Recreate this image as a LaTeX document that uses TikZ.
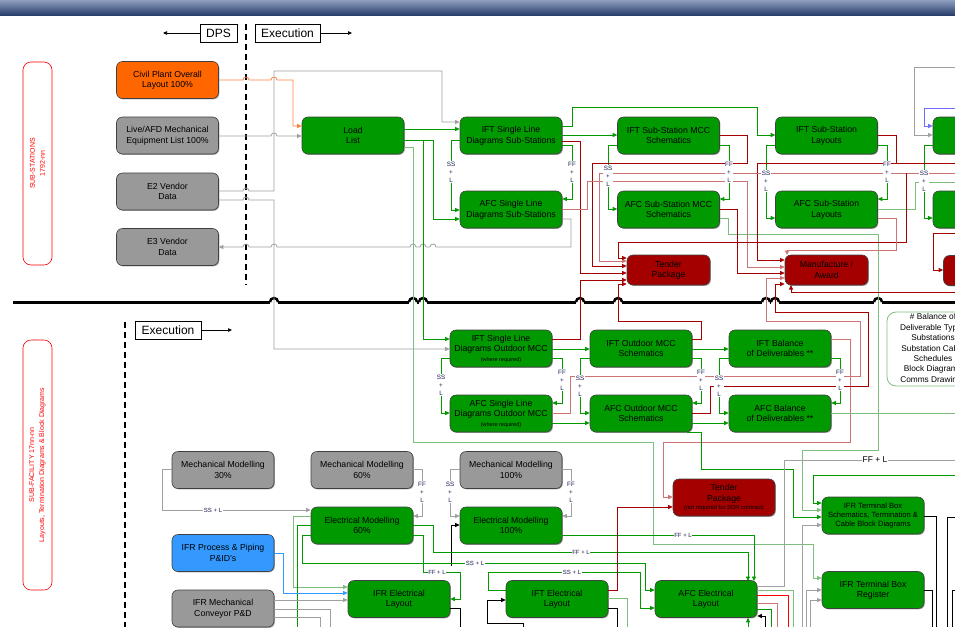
\documentclass[tikz,border=0pt]{standalone}
\usepackage{fontspec}
\setmainfont{Liberation Sans}
\usetikzlibrary{arrows.meta,shadows}
\definecolor{nGreen}{HTML}{009900}
\definecolor{nGray}{HTML}{999999}
\definecolor{nOrange}{HTML}{FF6600}
\definecolor{nRed}{HTML}{A50000}
\definecolor{nBlue}{HTML}{3399FF}
\definecolor{cG}{HTML}{009900}
\definecolor{cLG}{HTML}{7DBE7D}
\definecolor{cR}{HTML}{A50000}
\definecolor{cLR}{HTML}{CC7373}
\definecolor{cGr}{HTML}{A0A0A0}
\definecolor{cB}{HTML}{6E6EFF}
\definecolor{cO}{HTML}{FF8040}
\definecolor{cBl}{HTML}{3399FF}
\definecolor{hTop}{HTML}{8E9EBE}
\definecolor{hBot}{HTML}{283E6C}
\definecolor{lblue}{HTML}{1A1A50}
\begin{document}
\begin{tikzpicture}[x=1pt,y=-1pt,
  box/.style={draw=black!75, line width=0.6pt, rounded corners=6pt, minimum width=102pt, minimum height=37pt, inner sep=1pt, align=center, font=\fontsize{8.7}{10.5}\selectfont, drop shadow={shadow xshift=0.9pt,shadow yshift=-0.9pt,opacity=0.35,fill=black}},
  gbox/.style={box, fill=nGreen},
  grbox/.style={box, fill=nGray},
  obox/.style={box, fill=nOrange},
  bbox/.style={box, fill=nBlue},
  rbox/.style={box, fill=nRed, minimum width=83pt, minimum height=30pt},
  lane/.style={draw=red, line width=0.6pt, rounded corners=8pt, rotate=90, minimum height=29pt, align=center, text=red, font=\fontsize{7}{10}\selectfont, inner sep=1pt},
  hdr/.style={draw=black, line width=0.6pt, minimum height=18pt, inner sep=2pt, font=\fontsize{12}{14}\selectfont},
  ln/.style={draw=#1, line width=0.8pt},
  arr/.style={-{Triangle[length=4.5pt,width=4pt]}},
  lab/.style={font=\fontsize{6}{7.5}\selectfont, fill=white, inner sep=0.7pt, text=lblue},
  stk/.style={lab, align=center, font=\fontsize{6.3}{8}\selectfont, inner sep=0.4pt}
]
\useasboundingbox (0,0) rectangle (955,627);
\fill[white] (0,0) rectangle (955,627);
% header bar
\shade[top color=hTop, bottom color=hBot] (0,0) rectangle (955,15);

% header labels
\node[hdr, minimum width=37pt] (dps) at (218.5,33) {DPS};
\coordinate (dpsend) at (163,33);
\draw[line width=0.7pt, -{Triangle[length=4pt,width=3.5pt]}] (dps.west) -- (dpsend);
\node[hdr, minimum width=65pt] (exe1) at (287.5,33) {Execution};
\coordinate (exe1end) at (352,33);
\draw[line width=0.7pt, -{Triangle[length=4pt,width=3.5pt]}] (exe1.east) -- (exe1end);
\node[hdr, minimum width=66pt] (exe2) at (168,330) {Execution};
\coordinate (exe2end) at (232,330);
\draw[line width=0.7pt, -{Triangle[length=4pt,width=3.5pt]}] (exe2.east) -- (exe2end);

% dashed separators
\draw[line width=1.1pt, dash pattern=on 6pt off 4pt] (246,24) -- (246,285);
\draw[line width=1.1pt, dash pattern=on 6pt off 4pt] (125,322) -- (125,627);

% lane labels
\node[lane, minimum width=203pt] (lane1) at (37.5,163.5) {SUB-STATIONS\\1792-nn};
\node[lane, minimum width=250pt] (lane2) at (37.5,465) {SUB-FACILITY 17nn-nn\\Layouts, Termination Diagrams \& Block Diagrams};

% thick separator with hops
\draw[line width=3pt] (13,302) -- (955,302);
\foreach \xx in {274,413,423,580,618,766,775,878} {
  \fill[white] (\xx-4,299.5) rectangle (\xx+4,304.5);
  \draw[line width=2.5pt] (\xx-4,302) arc[start angle=180,end angle=360,radius=4];
}

% ---------------- nodes: top
\node[obox] (civil) at (167.5,80) {Civil Plant Overall\\Layout 100\%};
\node[grbox] (live) at (167.5,135.5) {Live/AFD Mechanical\\Equipment List 100\%};
\node[grbox] (e2) at (167.5,191.5) {E2 Vendor\\Data};
\node[grbox] (e3) at (167.5,247) {E3 Vendor\\Data};
\node[gbox] (load) at (353,135.5) {Load\\List};
\node[gbox] (iftsld) at (511,135.5) {IFT Single Line\\Diagrams Sub-Stations};
\node[gbox] (afcsld) at (511,209.5) {AFC Single Line\\Diagrams Sub-Stations};
\node[gbox] (iftmcc) at (668.5,135.5) {IFT Sub-Station MCC\\Schematics};
\node[gbox] (afcmcc) at (668.5,209.5) {AFC Sub-Station MCC\\Schematics};
\node[gbox] (iftlay) at (826.5,135.5) {IFT Sub-Station\\Layouts};
\node[gbox] (afclay) at (826.5,209.5) {AFC Sub-Station\\Layouts};
\node[gbox] (rtop) at (984,135.5) {};
\node[gbox] (rbot) at (984,209.5) {};
\node[rbox] (tender) at (668.5,270) {Tender\\Package};
\node[rbox] (manuf) at (826.5,270) {Manufacture /\\Award};
\node[rbox] (rred) at (985,270.5) {};

% ---------------- nodes: bottom
\node[gbox] (iftsldo) at (501,348.5) {IFT Single Line\\Diagrams Outdoor MCC\\[-1pt]{\fontsize{5.5}{6}\selectfont (where required)}};
\node[gbox] (afcsldo) at (501,413.5) {AFC Single Line\\Diagrams Outdoor MCC\\[-1pt]{\fontsize{5.5}{6}\selectfont (where required)}};
\node[gbox] (iftomcc) at (641,348.5) {IFT Outdoor MCC\\Schematics};
\node[gbox] (afcomcc) at (641,413.5) {AFC Outdoor MCC\\Schematics};
\node[gbox] (iftbal) at (780,348.5) {IFT Balance\\of Deliverables **};
\node[gbox] (afcbal) at (780,413.5) {AFC Balance\\of Deliverables **};
\node[draw=cLG, line width=0.8pt, fill=white, rounded corners=9pt, minimum width=92pt, minimum height=74pt, align=center, inner sep=1pt, font=\fontsize{8.3}{10.4}\selectfont] (note) at (933,349) {\# Balance of\\Deliverable Types\\Substations\\Substation Cable\\Schedules\\Block Diagrams\\Comms Drawings};
\node[grbox] (mech30) at (223,470) {Mechanical Modelling\\30\%};
\node[grbox] (mech60) at (362,470) {Mechanical Modelling\\60\%};
\node[grbox] (mech100) at (511,470) {Mechanical Modelling\\100\%};
\node[gbox] (elec60) at (362,525.5) {Electrical Modelling\\60\%};
\node[gbox] (elec100) at (511,525.5) {Electrical Modelling\\100\%};
\node[bbox] (ifrpp) at (223,553) {IFR Process \& Piping\\P\&ID's};
\node[grbox] (ifrmc) at (223,608.5) {IFR Mechanical\\Conveyor P\&D};
\node[gbox] (ifrel) at (399,599) {IFR Electrical\\Layout};
\node[gbox] (iftel) at (557,599) {IFT Electrical\\Layout};
\node[gbox] (afcel) at (706,599) {AFC Electrical\\Layout};
\node[rbox, minimum width=102pt, minimum height=37pt] (tender2) at (724,497.5) {Tender\\Package\\[-2pt]{\fontsize{5.8}{6.5}\selectfont (not required for SOR contract)}};
\node[gbox, font=\fontsize{7.6}{9.4}\selectfont] (ifrtb) at (873,515.5) {IFR Terminal Box\\Schematics, Termination \&\\Cable Block Diagrams};
\node[gbox] (ifrtbr) at (873,590) {IFR Terminal Box\\Register};

% ---------------- connectors: top
\draw[ln=cO,arr] (civil.east |- 0,80) -- (243,80) arc[start angle=180,end angle=360,radius=3] -- (271,80) arc[start angle=180,end angle=360,radius=3] -- (293,80) -- (293,126) -- (load.west |- 0,126);
\draw[ln=cGr,arr] (live.east |- 0,136) -- (271,136) arc[start angle=180,end angle=360,radius=3] -- (load.west |- 0,136);
\draw[ln=cGr,arr] (e2.east |- 0,191) -- (243,191) arc[start angle=180,end angle=360,radius=3] -- (274,191) -- (274,71) -| (442,122) -- (iftsld.west |- 0,122);
\draw[ln=cGr,arr] (e2.east |- 0,200) -- (243,200) arc[start angle=180,end angle=360,radius=3] -- (274,200) -- (274,349) -- (iftsldo.west |- 0,349);
\draw[ln=cGr,arr] (afcsld.east |- 0,219) -| (571,247) -- (436,247) arc[start angle=0,end angle=-180,radius=3] -- (426,247) arc[start angle=0,end angle=-180,radius=3] -- (416,247) arc[start angle=0,end angle=-180,radius=3] -- (277,247) arc[start angle=0,end angle=-180,radius=3] -- (249,247) arc[start angle=0,end angle=-180,radius=3] -- (e3.east |- 0,247);

\draw[ln=cG,arr] (load.east |- 0,129) -- (iftsld.west |- 0,129);
\draw[ln=cG,arr] (load.east |- 0,140) -| (433,219) -- (afcsld.west |- 0,219);
\draw[ln=cG,arr] (load.east |- 0,140) -| (423,339) -- (iftsldo.west |- 0,339);
\draw[ln=cLG,arr] (load.east |- 0,147) -| (413,442) -| (653,544) -| (813,578) -- (ifrtbr.west |- 0,578);

\draw[ln=cG,arr] (iftsld.west |- 0,140) -| (451,210) -- (afcsld.west |- 0,210);
\draw[ln=cG,arr] (iftsld.east |- 0,135) -- (iftmcc.west |- 0,135);
\draw[ln=cG,arr] (iftsld.east |- 0,126) -| (572,107) -| (757,135) -- (iftlay.west |- 0,135);
\draw[ln=cG,arr] (iftsld.east |- 0,145) -| (572,199) -- (afcsld.east |- 0,199);
\draw[ln=cG,arr] (iftmcc.west |- 0,145) -| (608,209) -- (afcmcc.west |- 0,209);
\draw[ln=cG,arr] (iftmcc.east |- 0,145) -| (729,199) -- (afcmcc.east |- 0,199);
\draw[ln=cG,arr] (iftlay.west |- 0,145) -| (766,218) -- (afclay.west |- 0,218);
\draw[ln=cG,arr] (iftlay.east |- 0,145) -| (887,199) -- (afclay.east |- 0,199);
\draw[ln=cG,arr] (rtop.west |- 0,145) -| (924,218) -- (rbot.west |- 0,218);
\draw[ln=cLG] (afclay.east |- 0,209) -| (915,182) -- (955,182);
\draw[ln=cLG,arr] (afcmcc.east |- 0,218) -| (728,234) -| (878,450) -| (802,510) -- (ifrtb.west |- 0,510);
\draw[ln=cGr,arr] (955,67) -| (914,135) -- (rtop.west |- 0,135);
\draw[ln=cB,arr] (955,108) -| (924,126) -- (rtop.west |- 0,126);

\draw[ln=cR,arr] (iftsld.east |- 0,141) -| (580,273) -- (tender.west |- 0,273);
\draw[ln=cR,arr] (iftmcc.east |- 0,135) -| (747,163) -| (592,266) -- (tender.west |- 0,266);
\draw[ln=cLR,arr] (afcsld.east |- 0,209) -| (587,181) -| (747,267) -- (manuf.west |- 0,267);
\draw[ln=cR,arr] (iftlay.east |- 0,135) -| (896,163) -| (757,260) -- (manuf.west |- 0,260);
\draw[ln=cR] (955,163) -- (896,163);
\draw[ln=cLR,arr] (955,173) -| (599,261) -- (tender.west |- 0,261);
\draw[ln=cR,arr] (afcmcc.east |- 0,209) -| (737,273) -- (manuf.west |- 0,273);
\draw[ln=cR,arr] (906,173) |- (618,242) -- (618,258) -- (tender.west |- 0,258);
\draw[ln=cLR,arr] (afclay.east |- 0,218) -| (896,250) -| (787,255);
\draw[ln=cR,arr] (955,292) -| (791,285);
\draw[ln=cR,arr] (955,233) -| (933,270) -- (rred.west |- 0,270);

% ---------------- connectors: outdoor MCC band
\draw[ln=cR,arr] (iftsldo.east |- 0,339) -| (580,280) -- (tender.west |- 0,280);
\draw[ln=cR,arr] (iftomcc.east |- 0,339) -| (701,321) -| (618,284) -- (tender.west |- 0,284);
\draw[ln=cLR,arr] (afcsldo.east |- 0,413) -| (570,376) -| (860,321) -| (766,278) -- (manuf.west |- 0,278);
\draw[ln=cLR] (iftbal.east |- 0,339) -| (850,376);
\draw[ln=cLR,arr] (850,376) |- (663,442) -- (663,497) -- (tender2.west |- 0,497);
\draw[ln=cR,arr] (afcomcc.east |- 0,413) -| (710,386) -| (868,312) -| (775,284) -- (manuf.west |- 0,284);

\draw[ln=cG,arr] (iftsldo.west |- 0,358) -| (441,413) -- (afcsldo.west |- 0,413);
\draw[ln=cG,arr] (iftsldo.east |- 0,358) -| (562,403) -- (afcsldo.east |- 0,403);
\draw[ln=cG,arr] (iftsldo.east |- 0,349) -- (iftomcc.west |- 0,349);
\draw[ln=cG,arr] (afcsldo.east |- 0,423) -- (afcomcc.west |- 0,423);
\draw[ln=cG,arr] (iftomcc.west |- 0,358) -| (580,413) -- (afcomcc.west |- 0,413);
\draw[ln=cG,arr] (iftomcc.east |- 0,358) -| (701,403) -- (afcomcc.east |- 0,403);
\draw[ln=cG,arr] (iftomcc.east |- 0,349) -- (iftbal.west |- 0,349);
\draw[ln=cG,arr] (afcomcc.east |- 0,423) -- (afcbal.west |- 0,423);
\draw[ln=cG,arr] (iftbal.west |- 0,358) -| (719,413) -- (afcbal.west |- 0,413);
\draw[ln=cG,arr] (iftbal.east |- 0,358) -| (840,403) -- (afcbal.east |- 0,403);
\draw[ln=cLG] (afcbal.east |- 0,413) -- (955,413);
\draw[ln=cG,arr] (afcomcc.south -| 687,0) -| (701,469) -| (793,517) -- (ifrtb.west |- 0,517);
\draw[ln=cG,arr] (955,475) -| (813,503) -- (ifrtb.west |- 0,503);

% ---------------- connectors: modelling band
\draw[ln=cGr,arr] (mech30.west |- 0,469) -| (162,510) -- (elec60.west |- 0,510);
\draw[ln=cGr,arr] (mech60.east |- 0,469) -| (422,516) -- (elec60.east |- 0,516);
\draw[ln=cGr,arr] (mech100.west |- 0,469) -| (450,516) -- (elec100.west |- 0,516);
\draw[ln=cGr,arr] (mech100.east |- 0,469) -| (571,516) -- (elec100.east |- 0,516);
\draw[ln=black,arr] (451,566) -- (451,525) -- (elec100.west |- 0,525);
\draw[ln=cG,arr] (elec60.east |- 0,525) -| (433,552) -| (748,581);
\draw[ln=cG,arr] (elec100.east |- 0,535) -| (754,581);
\draw[ln=cG,arr] (elec60.west |- 0,535) -| (302,563) -| (645,590) -- (afcel.west |- 0,590);
\draw[ln=cG,arr] (iftel.west |- 0,590) -| (488,572) -| (640,608) -- (afcel.west |- 0,608);
\draw[ln=cG,arr] (elec60.east |- 0,535) -| (423,572) -| (460,599) -- (ifrel.east |- 0,599);
\draw[ln=cLG,arr] (elec60.west |- 0,516) -| (293,587) -- (ifrel.west |- 0,587);
\draw[ln=cG] (elec60.west |- 0,525) -| (297,627);
\draw[ln=cBl,arr] (ifrpp.east |- 0,553) -| (283,593) -- (ifrel.west |- 0,593);
\draw[ln=cGr,arr] (ifrmc.east |- 0,600) -- (ifrel.west |- 0,600);
\draw[ln=cGr] (ifrmc.east |- 0,609) -| (330,627);
\draw[ln=cGr] (ifrmc.east |- 0,617) -| (320,627);
\draw[ln=black] (ifrel.east |- 0,608) -| (460,627);
\draw[ln=black,arr] (523,627) -- (523,623) -| (487,600) -- (iftel.west |- 0,600);
\draw[ln=cR,arr] (iftel.east |- 0,590) -| (617,507) -- (tender2.west |- 0,507);
\draw[ln=cLG] (iftel.east |- 0,598) -| (627,627);
\draw[ln=black] (iftel.east |- 0,608) -| (617,627);
\draw[ln=cGr] (afcel.east |- 0,586) -| (784,460) -- (955,460);
\draw[ln=cLG] (afcel.east |- 0,590) -| (793,627);
\draw[ln=red] (afcel.east |- 0,595) -| (788,627);
\draw[ln=cLR] (afcel.east |- 0,603) -| (777,627);
\draw[ln=cG] (afcel.east |- 0,609) -| (771,627);
\draw[ln=black,arr] (765,627) |- (afcel.east |- 0,616);
\draw[ln=cG,arr] (748,627) -- (afcel.south -| 748,0);
\draw[ln=cGr,arr] (802,627) |- (ifrtb.west |- 0,525);
\draw[ln=cGr,arr] (806,627) |- (ifrtbr.west |- 0,590);
\draw[ln=cGr,arr] (810,627) |- (ifrtbr.west |- 0,600);
\draw[ln=black] (ifrtb.east |- 0,516) -| (936,627);
\draw[ln=black] (ifrtbr.east |- 0,590) -| (932,627);
\draw[ln=black] (955,517) -| (947,627);
\draw[ln=black] (955,590) -| (952,627);

% ---------------- labels
\node[stk] (l1) at (451,172) {SS\\+\\L};
\node[stk] (l2) at (572,172) {FF\\+\\L};
\node[stk] (l3) at (608,176) {SS\\+\\L};
\node[stk] (l4) at (729,172) {FF\\+\\L};
\node[stk] (l5) at (766,181) {SS\\+\\L};
\node[stk] (l6) at (887,172) {FF\\+\\L};
\node[stk] (l7) at (924,181) {SS\\+\\L};
\node[stk] (l8) at (441,385) {SS\\+\\L};
\node[stk] (l9) at (562,380) {FF\\+\\L};
\node[stk] (l10) at (580,386) {SS\\+\\L};
\node[stk] (l11) at (701,380) {FF\\+\\L};
\node[stk] (l12) at (719,386) {SS\\+\\L};
\node[stk] (l13) at (840,380) {FF\\+\\L};
\node[stk] (l14) at (422,492) {FF\\+\\L};
\node[stk] (l15) at (450,492) {SS\\+\\L};
\node[stk] (l16) at (571,492) {FF\\+\\L};
\node[lab] (l17) at (213,510) {SS + L};
\node[lab] (l18) at (475,563) {SS + L};
\node[lab] (l19) at (437,572) {FF + L};
\node[lab] (l20) at (581,552) {FF + L};
\node[lab] (l21) at (683,535) {FF + L};
\node[lab] (l22) at (572,572) {SS + L};
\node[lab, font=\fontsize{8.5}{10}\selectfont, text=black] (l23) at (875,460) {FF + L};
\end{tikzpicture}
\end{document}
